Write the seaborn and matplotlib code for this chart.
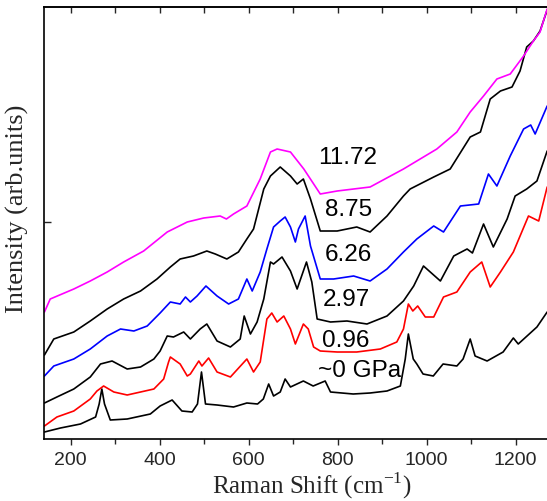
import matplotlib
matplotlib.use("Agg")
import matplotlib.pyplot as plt
import pandas as pd
import seaborn as sns
from matplotlib.ticker import MultipleLocator

# Raman shift (cm-1) / intensity (arb. units, offset traces)
shift_0 = [141, 177, 222, 256, 264, 270, 276, 289, 327, 379, 401, 428, 450, 473, 485, 494, 503,
           529, 566, 596, 620, 633, 645, 656, 671, 682, 694, 723, 745, 772, 784, 835, 873, 911,
           941, 952, 959, 970, 978, 992, 1015, 1037, 1068, 1082, 1098, 1109, 1136, 1172, 1195,
           1206, 1248, 1271]
int_0 = [7, 11, 15, 22, 35, 50, 35, 19, 20, 25, 33, 39, 28, 27, 35, 67, 35,
         34, 32, 36, 35, 40, 55, 43, 47, 60, 52, 58, 53, 58, 47, 45, 46, 48,
         53, 80, 105, 80, 75, 65, 63, 75, 73, 80, 100, 83, 78, 87, 101,
         95, 112, 127]

shift_096 = [141, 169, 207, 244, 259, 274, 297, 327, 357, 387, 409, 420, 424, 446, 462, 469, 488,
             495, 510, 529, 559, 596, 611, 626, 641, 652, 664, 679, 694, 705, 723, 734, 746, 761,
             799, 843, 896, 933, 948, 959, 969, 980, 997, 1016, 1038, 1068, 1098, 1124, 1143,
             1166, 1195, 1229, 1252, 1271]
int_096 = [13, 22, 28, 40, 48, 53, 47, 44, 47, 50, 60, 77, 82, 75, 63, 65, 78,
           73, 81, 67, 62, 80, 67, 77, 120, 126, 117, 123, 110, 95, 115, 110, 92, 88,
           87, 87, 90, 97, 110, 135, 128, 133, 122, 122, 142, 147, 167, 177, 152,
           167, 187, 223, 218, 252]

shift_297 = [141, 169, 207, 244, 267, 293, 327, 357, 387, 401, 417, 431, 454, 469, 491, 506, 529,
             559, 581, 590, 604, 619, 634, 649, 656, 675, 694, 709, 730, 742, 754, 784, 821, 866,
             911, 948, 971, 993, 1031, 1061, 1091, 1103, 1128, 1150, 1181, 1199, 1225, 1248, 1271]
int_297 = [36, 42, 50, 62, 75, 78, 70, 72, 80, 88, 103, 102, 107, 100, 110, 115, 98,
           92, 100, 123, 105, 117, 140, 177, 175, 182, 168, 150, 177, 157, 120, 117, 118, 115,
           123, 138, 153, 173, 158, 183, 190, 186, 215, 192, 220, 243, 250, 258, 288]

shift_626 = [141, 162, 207, 244, 282, 312, 342, 372, 401, 424, 446, 458, 469, 484, 504, 529, 555,
             577, 596, 608, 626, 641, 656, 671, 682, 694, 705, 712, 727, 739, 761, 791, 836, 873,
             911, 948, 978, 1016, 1038, 1076, 1117, 1139, 1158, 1188, 1218, 1234, 1244, 1271]
int_626 = [63, 73, 80, 90, 103, 110, 108, 113, 126, 137, 135, 142, 137, 143, 153, 143, 135,
           140, 160, 148, 167, 190, 212, 218, 222, 212, 197, 210, 223, 193, 160, 160, 163, 158,
           170, 187, 200, 213, 207, 233, 235, 265, 253, 283, 310, 314, 305, 333]

shift_875 = [141, 162, 207, 244, 282, 319, 357, 394, 424, 446, 476, 506, 525, 551, 577, 596, 611,
             634, 649, 671, 694, 709, 723, 739, 761, 799, 843, 873, 911, 948, 963, 1016, 1053,
             1098, 1121, 1143, 1166, 1192, 1210, 1225, 1240, 1255, 1271]
int_875 = [84, 100, 107, 118, 130, 140, 148, 160, 172, 180, 183, 188, 185, 180, 187, 200, 210,
           250, 263, 272, 263, 255, 260, 240, 208, 208, 212, 207, 223, 243, 250, 262, 270,
           302, 307, 340, 348, 352, 368, 392, 398, 408, 429]

shift_1172 = [141, 154, 207, 244, 282, 319, 364, 417, 462, 499, 536, 550, 566, 596, 626, 649, 664,
              694, 724, 761, 799, 873, 948, 1023, 1068, 1098, 1128, 1158, 1188, 1218, 1240, 1255,
              1271]
int_1172 = [127, 140, 150, 158, 167, 177, 188, 207, 217, 221, 223, 220, 225, 233, 260, 287, 290,
            287, 270, 245, 248, 252, 270, 290, 307, 327, 343, 360, 365, 383, 398, 407, 430]

pressures = ["~0 GPa", "0.96", "2.97", "6.26", "8.75", "11.72"]
colors = ["black", "red", "black", "blue", "black", "magenta"]
label_x = [755, 764, 767, 771, 771, 756]
label_y = [69, 99, 140, 185, 230, 282]

shifts = [shift_0, shift_096, shift_297, shift_626, shift_875, shift_1172]
intensities = [int_0, int_096, int_297, int_626, int_875, int_1172]

frames = []
for p, s, i in zip(pressures, shifts, intensities):
    frames.append(pd.DataFrame({"shift": s, "intensity": i, "pressure": p}))
df = pd.concat(frames, ignore_index=True)

sns.set_theme(style="ticks")
plt.rcParams["font.family"] = ["Liberation Sans", "DejaVu Sans"]

fig = plt.figure(figsize=(5.47, 5.02), dpi=100)
ax = fig.add_axes([44 / 547, 62 / 502, 504.5 / 547, 431.7 / 502])

sns.lineplot(
    data=df,
    x="shift",
    y="intensity",
    hue="pressure",
    palette=dict(zip(pressures, colors)),
    estimator=None,
    sort=False,
    legend=False,
    linewidth=1.2,
    ax=ax,
)

for p, x, y in zip(pressures, label_x, label_y):
    ax.text(x, y, p, fontsize=17.5, va="center", ha="left", color="black")

ax.set_xlim(140, 1274)
ax.set_ylim(0, 431.7)
ax.xaxis.set_major_locator(MultipleLocator(200))
ax.xaxis.set_minor_locator(MultipleLocator(100))
ax.set_yticks([217])
ax.set_yticklabels([])
ax.tick_params(axis="x", which="major", direction="out", length=4.5, width=1, labelsize=14, pad=4)
ax.tick_params(axis="x", which="minor", direction="out", length=3.5, width=1)
ax.tick_params(axis="y", direction="in", length=5, width=1)
for sp in ax.spines.values():
    sp.set_linewidth(1.2)
    sp.set_color("black")

top = ax.secondary_xaxis("top")
top.xaxis.set_major_locator(MultipleLocator(200))
top.xaxis.set_minor_locator(MultipleLocator(100))
top.tick_params(which="both", direction="in", labeltop=False, length=4, width=1)

ax.set_xlabel("Raman Shift (cm$^{\\mathregular{-1}}$)", family="Liberation Serif", fontsize=18)
ax.set_ylabel("Intensity (arb.units)", family="Liberation Serif", fontsize=19)
ax.xaxis.set_label_coords(0.53, -0.07)
ax.yaxis.set_label_coords(-0.03, 0.535)

fig.savefig("out.png", dpi=100)
